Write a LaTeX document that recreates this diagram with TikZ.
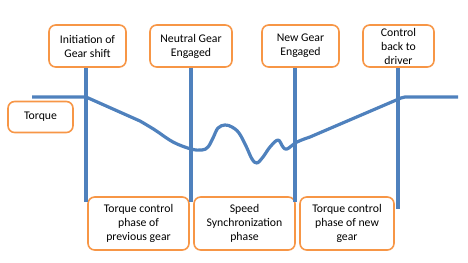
\documentclass[tikz,border=0pt]{standalone}
\usepackage{fontspec}
\setmainfont{Carlito}
\definecolor{ShiftBlue}{HTML}{4F81BD}
\definecolor{ShiftOrange}{HTML}{F79646}
\usetikzlibrary{calc}

\begin{document}
\begin{tikzpicture}[x=0.75pt, y=-0.75pt,
  phase/.style={draw=ShiftOrange, line width=1.2pt, rounded corners=5pt, fill=white,
    align=center, inner sep=0pt, font=\fontsize{8.8}{10.5}\selectfont},
  trace/.style={ShiftBlue, line width=2.4pt}]
  \useasboundingbox (0,0) rectangle (468,262);

  % Events along the shift
  \node[phase, minimum width=57.75pt, minimum height=31.5pt] (initbox) at (87.5,46) {Initiation of\\Gear shift};
  \node[phase, minimum width=61.5pt, minimum height=31.5pt] (neutralbox) at (191,46) {Neutral Gear\\Engaged};
  \node[phase, minimum width=57.75pt, minimum height=31.5pt] (newbox) at (300.5,46) {New Gear\\Engaged};
  \node[phase, minimum width=53.25pt, minimum height=31.5pt] (backbox) at (398.5,46) {Control\\back to\\driver};
  \node[phase, minimum width=48.75pt, minimum height=23.25pt] (torquebox) at (40.5,117) {Torque};

  % Phases below
  \node[phase, minimum width=75.75pt, minimum height=39.75pt] (prevphase) at (138.5,223.5) {Torque control\\phase of\\previous gear};
  \node[phase, minimum width=75.75pt, minimum height=39.75pt] (syncphase) at (244.5,223.5) {Speed\\Synchronization\\phase};
  \node[phase, minimum width=70.5pt, minimum height=39.75pt] (newphase) at (347,223.5) {Torque control\\phase of new\\gear};

  % Event markers
  \coordinate (t1) at (86,202);
  \coordinate (t2) at (191,202);
  \coordinate (t3) at (295,202);
  \coordinate (t4) at (398,209);
  \foreach \b/\t in {initbox/t1, neutralbox/t2, newbox/t3, backbox/t4}
    \draw[trace] (\b.south -| \t) -- (\t);

  % Torque trace
  \draw[trace, line join=round] (32,97) -- (86,97) -- (140,121)
    -- plot[smooth, tension=0.6] coordinates {(140,121) (155,130) (173,142) (191,149)
      (202,150) (208,147) (213,138) (218,128) (225,125) (232,127) (239,133) (246,146)
      (252,159) (257,163) (263,157) (270,147) (278,140) (283,147) (287,149) (297,142)
      (310,137)}
    -- (401,98) -- (405,97) -- (458,97);
\end{tikzpicture}
\end{document}
